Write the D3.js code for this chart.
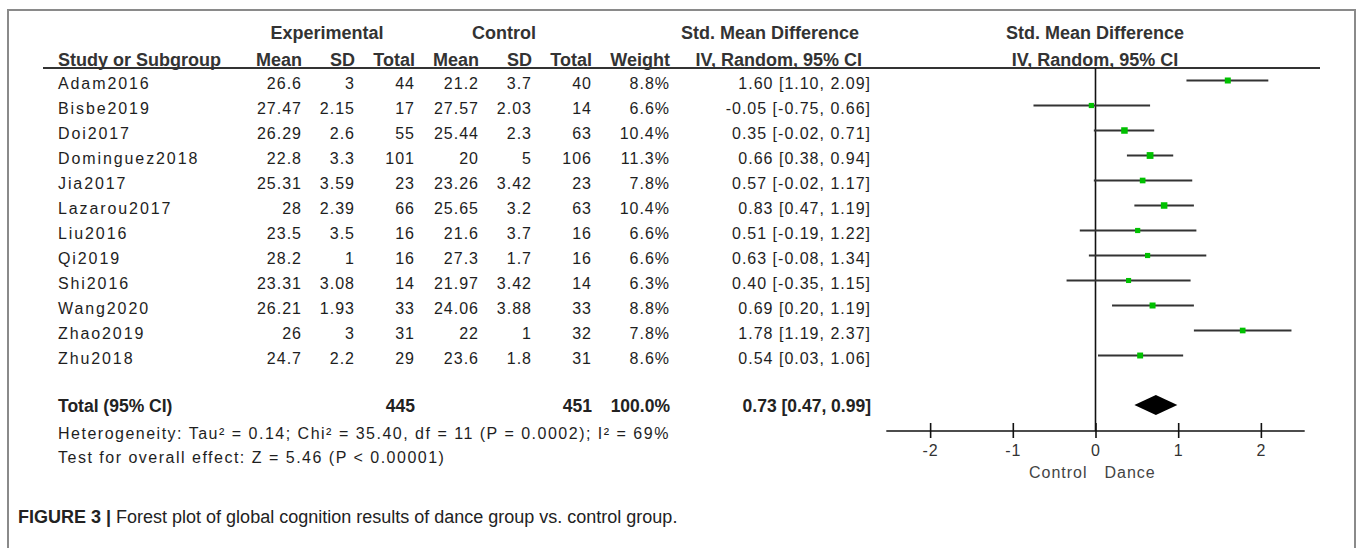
<!DOCTYPE html>
<html>
<head>
<meta charset="utf-8">
<script src="https://cdn.jsdelivr.net/npm/d3@7"></script>
<style>
  html, body { margin: 0; padding: 0; background: #fff; }
  svg { display: block; }
  .data { font-family: "Liberation Sans", Arial, sans-serif; font-size: 16px; letter-spacing: 1px; fill: #1e1e1e; }
  .name { letter-spacing: 1.9px; }
  .stat { letter-spacing: 1.5px; }
  .hdr { font-family: "Liberation Sans", Arial, sans-serif; font-size: 18px; font-weight: bold; fill: #333; }
  .tot { font-family: "Liberation Sans", Arial, sans-serif; font-size: 17.5px; font-weight: bold; fill: #222; }
  .cap { font-family: "Liberation Sans", Arial, sans-serif; font-size: 18px; fill: #222; }
</style>
</head>
<body>
<svg id="chart" width="1357" height="548"></svg>
<script>
const studies = ["Adam2016","Bisbe2019","Doi2017","Dominguez2018","Jia2017","Lazarou2017","Liu2016","Qi2019","Shi2016","Wang2020","Zhao2019","Zhu2018"];
const expMean = [26.6, 27.47, 26.29, 22.8, 25.31, 28, 23.5, 28.2, 23.31, 26.21, 26, 24.7];
const expSD   = [3, 2.15, 2.6, 3.3, 3.59, 2.39, 3.5, 1, 3.08, 1.93, 3, 2.2];
const expN    = [44, 17, 55, 101, 23, 66, 16, 16, 14, 33, 31, 29];
const ctlMean = [21.2, 27.57, 25.44, 20, 23.26, 25.65, 21.6, 27.3, 21.97, 24.06, 22, 23.6];
const ctlSD   = [3.7, 2.03, 2.3, 5, 3.42, 3.2, 3.7, 1.7, 3.42, 3.88, 1, 1.8];
const ctlN    = [40, 14, 63, 106, 23, 63, 16, 16, 14, 33, 32, 31];
const weight  = [8.8, 6.6, 10.4, 11.3, 7.8, 10.4, 6.6, 6.6, 6.3, 8.8, 7.8, 8.6];
const smd     = [1.60, -0.05, 0.35, 0.66, 0.57, 0.83, 0.51, 0.63, 0.40, 0.69, 1.78, 0.54];
const ciLow   = [1.10, -0.75, -0.02, 0.38, -0.02, 0.47, -0.19, -0.08, -0.35, 0.20, 1.19, 0.03];
const ciHigh  = [2.09, 0.66, 0.71, 0.94, 1.17, 1.19, 1.22, 1.34, 1.15, 1.19, 2.37, 1.06];
const total = { expN: 445, ctlN: 451, weight: 100.0, smd: 0.73, lo: 0.47, hi: 0.99 };
const axisTicks = [-2, -1, 0, 1, 2];
const favourLabels = ["Control", "Dance"];
const heterogeneity = "Heterogeneity: Tau\u00B2 = 0.14; Chi\u00B2 = 35.40, df = 11 (P = 0.0002); I\u00B2 = 69%";
const overallTest = "Test for overall effect: Z = 5.46 (P < 0.00001)";
const captionBold = "FIGURE 3 |";
const captionText = " Forest plot of global cognition results of dance group vs. control group.";

const svg = d3.select("#chart");

// frame
svg.append("rect").attr("x", 8).attr("y", 10).attr("width", 1347).attr("height", 545)
  .attr("fill", "none").attr("stroke", "#8a8a8a").attr("stroke-width", 2);

// scales
const x = d3.scaleLinear().domain([-2.53, 2.53]).range([886.3, 1304.7]);
const y = d3.scaleLinear().domain([0, 11]).range([80.5, 355.5]);
const sizeScale = d3.scaleSqrt().domain([0, 11.3]).range([0, 6.8]);
const textDy = 3;

// header
const h1 = 33, h2 = 60;
const hdr = svg.append("g").attr("class", "hdr");
[["Experimental", 327], ["Control", 504], ["Std. Mean Difference", 770], ["Std. Mean Difference", 1095]].forEach(([t, cx]) => {
  hdr.append("text").attr("x", cx).attr("y", h1).attr("dy", "0.35em").attr("text-anchor", "middle").text(t);
});
hdr.append("text").attr("x", 58).attr("y", h2).attr("dy", "0.35em").text("Study or Subgroup");
const cols = [
  { key: "Mean", x: 302, v: expMean, f: d => String(d) },
  { key: "SD", x: 355, v: expSD, f: d => String(d) },
  { key: "Total", x: 415, v: expN, f: d => String(d) },
  { key: "Mean", x: 479, v: ctlMean, f: d => String(d) },
  { key: "SD", x: 532, v: ctlSD, f: d => String(d) },
  { key: "Total", x: 592, v: ctlN, f: d => String(d) },
  { key: "Weight", x: 670, v: weight, f: d => d.toFixed(1) + "%" }
];
cols.forEach(c => {
  hdr.append("text").attr("x", c.x).attr("y", h2).attr("dy", "0.35em").attr("text-anchor", "end").text(c.key);
});
hdr.append("text").attr("x", 862).attr("y", h2).attr("dy", "0.35em").attr("text-anchor", "end").text("IV, Random, 95% CI");
hdr.append("text").attr("x", 1095).attr("y", h2).attr("dy", "0.35em").attr("text-anchor", "middle").text("IV, Random, 95% CI");

svg.append("line").attr("x1", 43).attr("x2", 1320).attr("y1", 68).attr("y2", 68)
  .attr("stroke", "#333").attr("stroke-width", 2);

// rows
const body = svg.append("g").attr("class", "data");
const fmt = v => v.toFixed(2);
studies.forEach((s, i) => {
  const yy = y(i) + textDy;
  body.append("text").attr("class", "name").attr("x", 58).attr("y", yy).attr("dy", "0.35em").text(s);
  cols.forEach(c => {
    body.append("text").attr("x", c.x).attr("y", yy).attr("dy", "0.35em").attr("text-anchor", "end").text(c.f(c.v[i]));
  });
  body.append("text").attr("x", 871).attr("y", yy).attr("dy", "0.35em").attr("text-anchor", "end")
    .text(`${fmt(smd[i])} [${fmt(ciLow[i])}, ${fmt(ciHigh[i])}]`);
});

// total row
const yTot = 406;
const tot = svg.append("g").attr("class", "tot");
tot.append("text").attr("x", 58).attr("y", yTot).attr("dy", "0.35em").text("Total (95% CI)");
tot.append("text").attr("x", 415).attr("y", yTot).attr("dy", "0.35em").attr("text-anchor", "end").text(total.expN);
tot.append("text").attr("x", 592).attr("y", yTot).attr("dy", "0.35em").attr("text-anchor", "end").text(total.ctlN);
tot.append("text").attr("x", 670).attr("y", yTot).attr("dy", "0.35em").attr("text-anchor", "end").text(total.weight.toFixed(1) + "%");
tot.append("text").attr("x", 871).attr("y", yTot).attr("dy", "0.35em").attr("text-anchor", "end")
  .text(`${fmt(total.smd)} [${fmt(total.lo)}, ${fmt(total.hi)}]`);

body.append("text").attr("class", "stat").attr("x", 58).attr("y", 433).attr("dy", "0.35em").text(heterogeneity);
body.append("text").attr("class", "stat").attr("x", 58).attr("y", 457).attr("dy", "0.35em").text(overallTest);

// plot: zero line
const axisY = 431;
svg.append("line").attr("x1", x(0)).attr("x2", x(0)).attr("y1", 68).attr("y2", axisY)
  .attr("stroke", "#111").attr("stroke-width", 1.6);

// CI lines
svg.append("g").selectAll("line").data(studies).join("line")
  .attr("x1", (d, i) => x(ciLow[i])).attr("x2", (d, i) => x(ciHigh[i]))
  .attr("y1", (d, i) => y(i)).attr("y2", (d, i) => y(i))
  .attr("stroke", "#333").attr("stroke-width", 2);

// squares
svg.append("g").selectAll("rect").data(studies).join("rect")
  .attr("x", (d, i) => x(smd[i]) - sizeScale(weight[i]) / 2)
  .attr("y", (d, i) => y(i) - sizeScale(weight[i]) / 2)
  .attr("width", (d, i) => sizeScale(weight[i]))
  .attr("height", (d, i) => sizeScale(weight[i]))
  .attr("fill", "#00c000");

// diamond
svg.append("path")
  .attr("d", `M${x(total.lo)},${yTot - 1} L${x(total.smd)},${yTot - 11} L${x(total.hi)},${yTot - 1} L${x(total.smd)},${yTot + 9} Z`)
  .attr("fill", "#000");

// axis
const axisG = svg.append("g").attr("transform", `translate(0,${axisY})`)
  .call(d3.axisBottom(x).tickValues(axisTicks).tickFormat(d => String(d)).tickSize(7).tickPadding(0));
axisG.select(".domain").remove();
axisG.selectAll(".tick line").attr("y1", -8).attr("y2", 7).attr("stroke", "#111").attr("stroke-width", 1.6);
axisG.selectAll(".tick text").attr("y", 19).attr("dy", "0.35em")
  .attr("font-family", "Liberation Sans, Arial, sans-serif").attr("font-size", 16).attr("fill", "#333")
  .style("letter-spacing", "1px");
axisG.append("line").attr("x1", x.range()[0]).attr("x2", x.range()[1]).attr("stroke", "#111").attr("stroke-width", 1.6);

svg.append("text").attr("class", "data").attr("x", x(0) - 8).attr("y", 472).attr("dy", "0.35em")
  .attr("text-anchor", "end").style("font-size", "16px").style("fill", "#444").text(favourLabels[0]);
svg.append("text").attr("class", "data").attr("x", x(0) + 9).attr("y", 472).attr("dy", "0.35em")
  .style("font-size", "16px").style("fill", "#444").text(favourLabels[1]);

// caption
const cap = svg.append("text").attr("class", "cap").attr("x", 18).attr("y", 517).attr("dy", "0.35em");
cap.append("tspan").attr("font-weight", "bold").text(captionBold);
cap.append("tspan").text(captionText);
</script>
</body>
</html>
